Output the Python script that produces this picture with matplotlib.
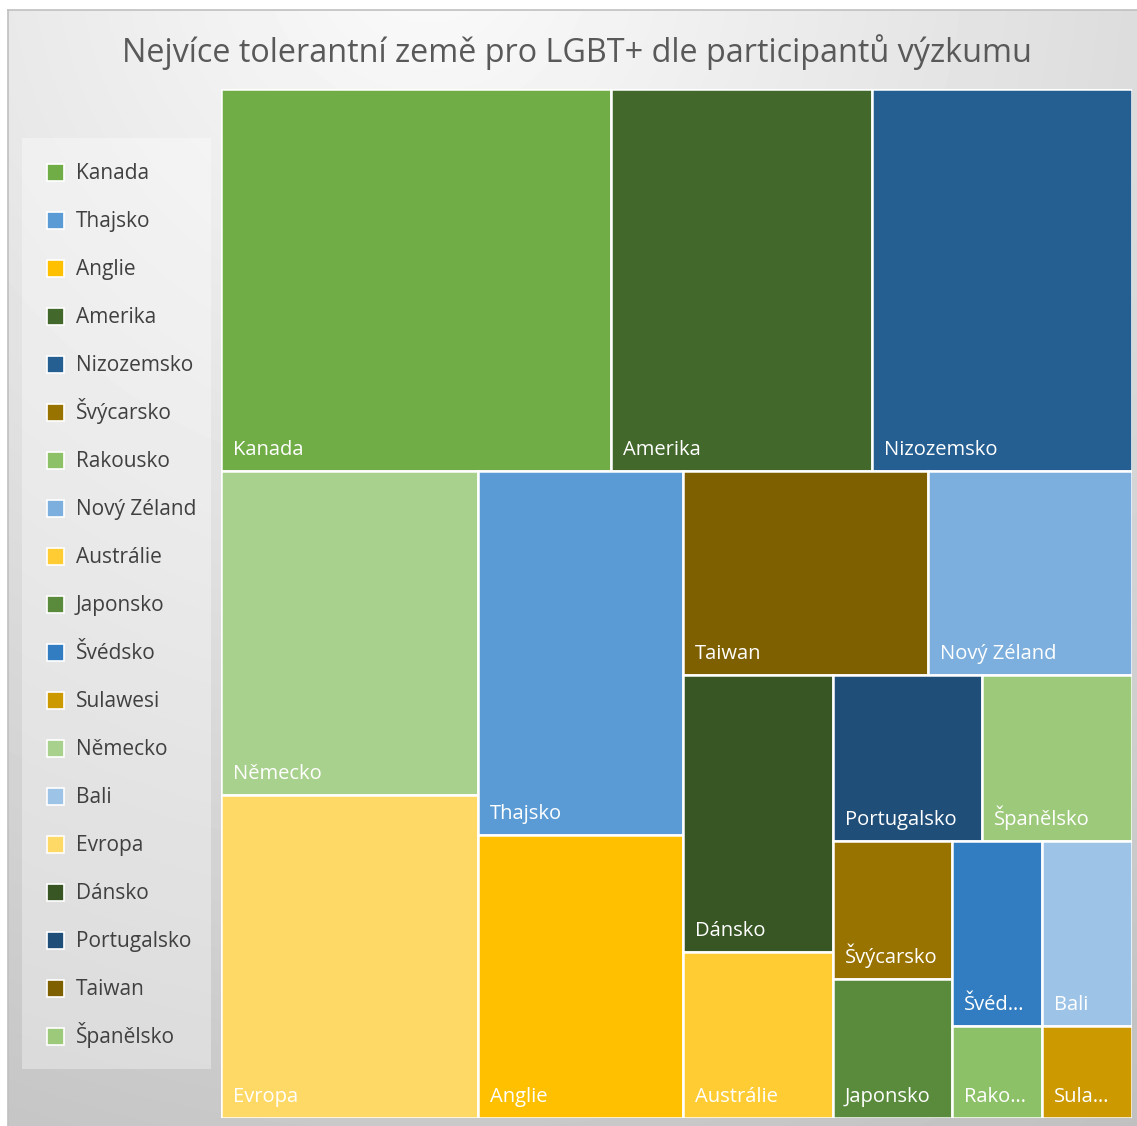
import numpy as np
import matplotlib.pyplot as plt
from matplotlib.patches import Rectangle

plt.rcParams['font.family'] = ['Open Sans', 'DejaVu Sans']

# data (legend / data order)
countries = ['Kanada', 'Thajsko', 'Anglie', 'Amerika', 'Nizozemsko', 'Švýcarsko',
             'Rakousko', 'Nový Zéland', 'Austrálie', 'Japonsko', 'Švédsko', 'Sulawesi',
             'Německo', 'Bali', 'Evropa', 'Dánsko', 'Portugalsko', 'Taiwan', 'Španělsko']
votes = [18, 9, 7, 12, 12, 2, 1, 5, 3, 2, 2, 1, 10, 2, 10, 5, 3, 6, 3]
colors = ['#70AD47', '#5B9BD5', '#FFC000', '#43682B', '#255E91', '#997300',
          '#8CC168', '#7CAFDD', '#FFCD33', '#5A8B3C', '#327DC2', '#CC9A00',
          '#A9D18E', '#9DC3E6', '#FFD966', '#375623', '#1F4E79', '#7F6000', '#9DC97B']

title = 'Nejvíce tolerantní země pro LGBT+ dle participantů výzkumu'

# how many cells go in each strip (Excel's grouping)
groups = [3, 2, 2, 2, 2, 2, 2, 2, 1, 1]

W, H = 1137, 1126
fig = plt.figure(figsize=(W / 100, H / 100), dpi=100)

# background with soft radial gradient
bg = fig.add_axes([8 / W, 0, 1 - 8 / W, 1 - 10 / H])
yy, xx = np.mgrid[0:1116, 0:1129]
r = np.hypot(xx - 420, yy + 60) / 1300
shade = np.clip(0.985 - 0.22 * r, 0, 1)
bg.imshow(shade, cmap='gray', vmin=0, vmax=1, aspect='auto', extent=(0, 1, 0, 1))
bg.set_xticks([])
bg.set_yticks([])
for s in ['right', 'bottom']:
    bg.spines[s].set_visible(False)
for s in ['left', 'top']:
    bg.spines[s].set_color('#c0c0c0')
    bg.spines[s].set_linewidth(1.2)

fig.text(577 / W, 1 - 52 / H, title, ha='center', va='center',
         fontsize=23.3, color='#595959')

# treemap area
x0, x1, y0, y1 = 221, 1132, 89, 1118
ax = fig.add_axes([x0 / W, 1 - y1 / H, (x1 - x0) / W, (y1 - y0) / H])
aw, ah = x1 - x0, y1 - y0
ax.set_xlim(0, aw)
ax.set_ylim(ah, 0)
ax.axis('off')

order = sorted(range(len(votes)), key=lambda i: -votes[i])
scale = aw * ah / sum(votes)

rects = {}
rx, ry, rw, rh = 0.0, 0.0, float(aw), float(ah)
k = 0
for g in groups:
    idx = order[k:k + g]
    k += g
    area = sum(votes[i] for i in idx) * scale
    if rw <= rh:
        # horizontal strip at top
        sh = area / rw
        cx = rx
        for i in idx:
            cw = votes[i] * scale / sh
            rects[i] = (cx, ry, cw, sh)
            cx += cw
        ry += sh
        rh -= sh
    else:
        # vertical strip at left
        sw = area / rh
        cy = ry
        for i in idx:
            ch = votes[i] * scale / sw
            rects[i] = (rx, cy, sw, ch)
            cy += ch
        rx += sw
        rw -= sw

renderer = fig.canvas.get_renderer()
for i, (cx, cy, cw, ch) in rects.items():
    ax.add_patch(Rectangle((cx, cy), cw, ch, facecolor=colors[i],
                           edgecolor='white', linewidth=1.8))
    name = countries[i]
    t = ax.text(cx + 12, cy + ch - 16, name, color='white', fontsize=14.5,
                ha='left', va='baseline')
    n = len(name)
    while t.get_window_extent(renderer).width + 22 > cw and n > 1:
        n -= 1
        t.set_text(name[:n] + '…')

# legend (drawn by hand to keep Excel's even row spacing)
lg = fig.add_axes([0, 0, 1, 1], facecolor='none')
lg.set_xlim(0, W)
lg.set_ylim(H, 0)
lg.axis('off')
lg.add_patch(Rectangle((22, 138), 189, 931, facecolor='white', alpha=0.35,
                       edgecolor='none'))
for j, (name, c) in enumerate(zip(countries, colors)):
    yc = 172 + 48 * j
    lg.add_patch(Rectangle((47, yc - 8.5), 17, 17, facecolor=c,
                           edgecolor='white', linewidth=1.2))
    lg.text(76, yc + 7, name, fontsize=15, color='#404040',
            ha='left', va='baseline')

fig.savefig('out.png', dpi=100)
